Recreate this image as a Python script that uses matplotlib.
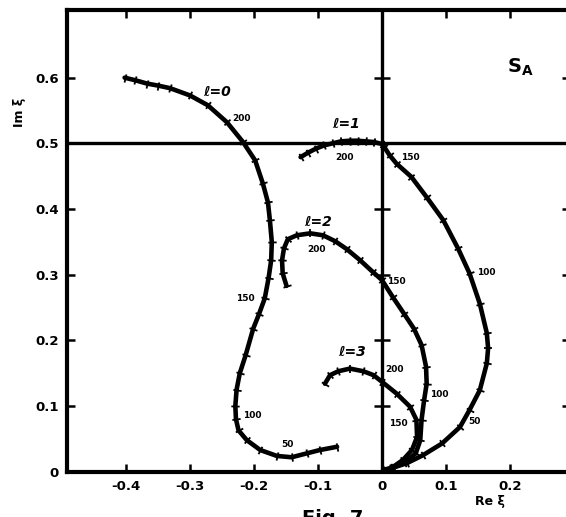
import numpy as np
import matplotlib
matplotlib.use("Agg")
import matplotlib.pyplot as plt

# Trajectories in the complex plane, one list pair per partial wave
L0_RE = [-0.402, -0.385, -0.367, -0.350, -0.331, -0.300, -0.272, -0.242, -0.217,
         -0.198, -0.186, -0.178, -0.175, -0.172, -0.173, -0.177, -0.183, -0.192,
         -0.201, -0.213, -0.222, -0.227, -0.229, -0.228, -0.224, -0.211, -0.190,
         -0.164, -0.141, -0.117, -0.097, -0.070]
L0_IM = [0.600, 0.596, 0.591, 0.588, 0.584, 0.573, 0.558, 0.532, 0.502,
         0.474, 0.439, 0.410, 0.383, 0.350, 0.322, 0.295, 0.264, 0.240,
         0.218, 0.177, 0.150, 0.125, 0.100, 0.080, 0.063, 0.048, 0.033,
         0.024, 0.022, 0.028, 0.033, 0.038]

L1_RE = [-0.127, -0.115, -0.103, -0.090, -0.077, -0.064, -0.050, -0.038, -0.025,
         -0.012, 0.000, 0.004, 0.012, 0.023, 0.046, 0.070, 0.096, 0.119, 0.137,
         0.153, 0.164, 0.166, 0.164, 0.153, 0.137, 0.122, 0.094, 0.064, 0.039,
         0.017, 0.002]
L1_IM = [0.479, 0.486, 0.492, 0.497, 0.500, 0.503, 0.504, 0.504, 0.503,
         0.502, 0.499, 0.494, 0.482, 0.469, 0.449, 0.418, 0.383, 0.340, 0.302,
         0.256, 0.211, 0.188, 0.165, 0.124, 0.094, 0.068, 0.043, 0.025, 0.013,
         0.006, 0.003]

L2_RE = [-0.149, -0.155, -0.156, -0.153, -0.147, -0.133, -0.112, -0.092, -0.073,
         -0.055, -0.034, -0.014, 0.000, 0.017, 0.035, 0.050, 0.062, 0.069, 0.070,
         0.066, 0.062, 0.060, 0.053, 0.035, 0.014, 0.002]
L2_IM = [0.283, 0.302, 0.322, 0.340, 0.354, 0.360, 0.363, 0.360, 0.351,
         0.339, 0.322, 0.304, 0.292, 0.266, 0.240, 0.218, 0.193, 0.160, 0.134,
         0.109, 0.079, 0.048, 0.028, 0.013, 0.005, 0.001]

L3_RE = [-0.089, -0.081, -0.068, -0.050, -0.029, -0.013, 0.000, 0.023, 0.044,
         0.054, 0.055, 0.047, 0.033, 0.017, 0.005]
L3_IM = [0.134, 0.147, 0.153, 0.157, 0.153, 0.147, 0.137, 0.119, 0.099,
         0.079, 0.053, 0.033, 0.018, 0.007, 0.002]

# Energy labels along the curves: (text, re, im)
ENERGY_LABELS = [
    ("200", -0.219, 0.538), ("150", -0.213, 0.264), ("100", -0.203, 0.086), ("50", -0.147, 0.041),
    ("200", -0.058, 0.479), ("150", 0.044, 0.479), ("100", 0.163, 0.304), ("50", 0.145, 0.076),
    ("200", -0.102, 0.339), ("150", 0.023, 0.290), ("100", 0.089, 0.117),
    ("200", 0.020, 0.155), ("150", 0.025, 0.074),
]
WAVE_LABELS = [("ℓ=0", -0.258, 0.578), ("ℓ=1", -0.056, 0.530),
               ("ℓ=2", -0.100, 0.380), ("ℓ=3", -0.047, 0.182)]

X_TICKS = [-0.4, -0.3, -0.2, -0.1, 0.0, 0.1, 0.2]
X_TICK_LABELS = ["-0.4", "-0.3", "-0.2", "-0.1", "0", "0.1", "0.2"]
Y_TICKS = [0.0, 0.1, 0.2, 0.3, 0.4, 0.5, 0.6]
Y_TICK_LABELS = ["0", "0.1", "0.2", "0.3", "0.4", "0.5", "0.6"]

fig = plt.figure(figsize=(5.66, 5.17), dpi=100)
ax = fig.add_axes([0.1184, 0.0876, 0.8887, 0.893])
ax.set_xlim(-0.492, 0.294)
ax.set_ylim(0.0, 0.703)

for s in ax.spines.values():
    s.set_linewidth(3.0)

ax.set_xticks(X_TICKS)
ax.set_xticklabels(X_TICK_LABELS, fontsize=9.5, fontweight="bold")
ax.set_yticks(Y_TICKS)
ax.set_yticklabels(Y_TICK_LABELS, fontsize=9.5, fontweight="bold")
ax.tick_params(direction="in", length=6, width=1.8, top=True, right=True, pad=6)

# unitarity reference lines
ax.axhline(0.5, color="black", lw=2.4)
ax.axvline(0.0, color="black", lw=2.4)
ax.plot(np.zeros(5), [0.1, 0.2, 0.3, 0.4, 0.6], ls="none", marker="_",
        ms=11, mew=1.8, color="black")


def draw_curve(re, im):
    ax.plot(re, im, color="black", lw=3.3, solid_capstyle="round",
            solid_joinstyle="round")
    # short marks across the curve at each point
    pts = ax.transData.transform(np.column_stack([re, im]))
    d = np.gradient(pts, axis=0)
    ang = np.degrees(np.arctan2(d[:, 1], d[:, 0]))
    for (x, y), a in zip(zip(re, im), ang):
        ax.plot(x, y, marker=(2, 0, a), ms=6, mew=1.3, color="black")


draw_curve(L0_RE, L0_IM)
draw_curve(L1_RE, L1_IM)
draw_curve(L2_RE, L2_IM)
draw_curve(L3_RE, L3_IM)

for txt, x, y in ENERGY_LABELS:
    ax.text(x, y, txt, fontsize=6.5, fontweight="bold", ha="center", va="center")
for txt, x, y in WAVE_LABELS:
    ax.text(x, y, txt, fontsize=10, fontweight="bold", fontstyle="italic",
            ha="center", va="center")

ax.text(0.217, 0.616, "S$_\\mathbf{A}$", fontsize=14, fontweight="bold",
        ha="center", va="center")

fig.text(20 / 566, 1 - 112 / 517, "Im ξ", rotation=90, fontsize=9,
         fontweight="bold", ha="center", va="center")
fig.text(490 / 566, 1 - 501 / 517, "Re ξ", fontsize=9, fontweight="bold",
         ha="center", va="center")
fig.text(302 / 566, 1 - 509 / 517, "Fig. 7", fontsize=14, fontweight="bold",
         ha="left", va="top")

fig.savefig("out.png", dpi=100)
